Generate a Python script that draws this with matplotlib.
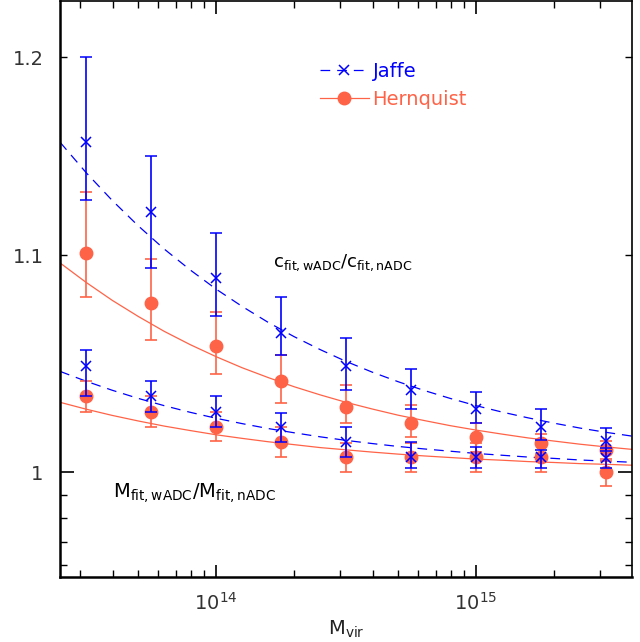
import numpy as np
import matplotlib
matplotlib.use("Agg")
import matplotlib.pyplot as plt
from matplotlib.ticker import FixedLocator, FixedFormatter, LogLocator, NullFormatter
from matplotlib.lines import Line2D

# halo mass bins, log10(M_vir)
log_m = [13.5, 13.75, 14.0, 14.25, 14.5, 14.75, 15.0, 15.25, 15.5]

# c_fit,wADC / c_fit,nADC
c_jaffe = [1.156, 1.121, 1.089, 1.063, 1.048, 1.037, 1.028, 1.020, 1.014]
c_jaffe_hi = [1.200, 1.149, 1.111, 1.080, 1.061, 1.0466, 1.0357, 1.028, 1.0195]
c_jaffe_lo = [1.127, 1.094, 1.071, 1.053, 1.037, 1.028, 1.0217, 1.0141, 1.0092]
c_hern = [1.101, 1.077, 1.057, 1.041, 1.029, 1.022, 1.0155, 1.0128, 1.0097]
c_hern_hi = [1.131, 1.098, 1.073, 1.053, 1.039, 1.030, 1.0217, 1.017, 1.014]
c_hern_lo = [1.080, 1.060, 1.044, 1.031, 1.022, 1.0155, 1.0088, 1.008, 1.005]

# M_fit,wADC / M_fit,nADC
m_jaffe = [1.048, 1.034, 1.027, 1.020, 1.0132, 1.0066, 1.0066, 1.0066, 1.0061]
m_jaffe_hi = [1.0554, 1.041, 1.034, 1.0266, 1.020, 1.0132, 1.011, 1.010, 1.0106]
m_jaffe_lo = [1.034, 1.027, 1.020, 1.0132, 1.0066, 1.002, 1.002, 1.002, 1.002]
m_hern = [1.034, 1.027, 1.020, 1.0132, 1.0066, 1.0066, 1.0066, 1.0066, 1.000]
m_hern_hi = [1.041, 1.034, 1.027, 1.020, 1.013, 1.013, 1.013, 1.013, 1.006]
m_hern_lo = [1.027, 1.0203, 1.0137, 1.0066, 1.000, 1.000, 1.000, 1.000, 0.994]

# fitted curves
log_m_fit = [13.4, 13.5, 13.6, 13.7, 13.8, 13.9, 14.0, 14.1, 14.2, 14.3, 14.4, 14.5,
             14.6, 14.7, 14.8, 14.9, 15.0, 15.1, 15.2, 15.3, 15.4, 15.5, 15.6]
c_jaffe_fit = [1.156, 1.1407, 1.1269, 1.1144, 1.1031, 1.0930, 1.0838, 1.0756, 1.0681,
               1.0614, 1.0554, 1.0499, 1.0450, 1.0406, 1.0366, 1.0330, 1.0297, 1.0268,
               1.0242, 1.0218, 1.0196, 1.0177, 1.0160]
c_hern_fit = [1.0963, 1.0870, 1.0785, 1.0709, 1.0639, 1.0577, 1.0521, 1.0470, 1.0425,
              1.0383, 1.0346, 1.0312, 1.0282, 1.0254, 1.0230, 1.0207, 1.0187, 1.0169,
              1.0152, 1.0138, 1.0124, 1.0112, 1.0101]
m_jaffe_fit = [1.0453, 1.0408, 1.0367, 1.0330, 1.0297, 1.0267, 1.0240, 1.0216, 1.0194,
               1.0175, 1.0157, 1.0141, 1.0127, 1.0114, 1.0103, 1.0093, 1.0083, 1.0075,
               1.0067, 1.0061, 1.0054, 1.0049, 1.0044]
m_hern_fit = [1.0312, 1.0281, 1.0253, 1.0228, 1.0205, 1.0185, 1.0166, 1.0150, 1.0135,
              1.0122, 1.0109, 1.0099, 1.0089, 1.0080, 1.0072, 1.0065, 1.0058, 1.0053,
              1.0047, 1.0043, 1.0038, 1.0035, 1.0031]

blue = "#0000ff"
red = "#ff6347"
plt.rcParams["lines.scale_dashes"] = False

mass = 10 ** np.array(log_m)
mass_fit = 10 ** np.array(log_m_fit)

fig = plt.figure(figsize=(6.4, 6.42), dpi=100)
ax = fig.add_axes([0.094, 0.1012, 0.8935, 0.8970])
ax.set_xscale("log")
ax.set_yscale("log")


def err(y, lo, hi):
    y = np.array(y)
    return [y - np.array(lo), np.array(hi) - y]


# fits
ax.plot(mass_fit, c_hern_fit, color=red, lw=0.9)
ax.plot(mass_fit, m_hern_fit, color=red, lw=0.9)
ax.plot(mass_fit, c_jaffe_fit, color=blue, lw=0.9, dashes=(7, 5))
ax.plot(mass_fit, m_jaffe_fit, color=blue, lw=0.9, dashes=(7, 5))

# points
for y, lo, hi in [(c_hern, c_hern_lo, c_hern_hi), (m_hern, m_hern_lo, m_hern_hi)]:
    ax.errorbar(mass, y, yerr=err(y, lo, hi), fmt="o", color=red, ms=9,
                elinewidth=1.2, capsize=4, capthick=1.2, zorder=3)
for y, lo, hi in [(c_jaffe, c_jaffe_lo, c_jaffe_hi), (m_jaffe, m_jaffe_lo, m_jaffe_hi)]:
    ax.errorbar(mass, y, yerr=err(y, lo, hi), fmt="x", color=blue, ms=7, mew=1.1,
                elinewidth=1.2, capsize=4, capthick=1.2, zorder=4)

ax.set_xlim(10 ** 13.4, 10 ** 15.6)
ax.set_ylim(0.955, 1.230)

# ticks
ax.yaxis.set_major_locator(FixedLocator([1.0]))
ax.yaxis.set_major_formatter(FixedFormatter(["1"]))
ax.yaxis.set_minor_locator(FixedLocator([0.96, 0.97, 0.98, 0.99, 1.1, 1.2]))
ax.yaxis.set_minor_formatter(FixedFormatter(["", "", "", "", "1.1", "1.2"]))
ax.xaxis.set_major_locator(LogLocator(base=10, numticks=10))
ax.xaxis.set_minor_locator(LogLocator(base=10, subs=np.arange(2, 10), numticks=20))
ax.xaxis.set_minor_formatter(NullFormatter())

ax.tick_params(which="both", direction="in", top=True, right=True, color="black")
ax.tick_params(axis="y", which="major", length=10, width=1.2, labelsize=14, pad=12, labelcolor="#333333")
ax.tick_params(axis="y", which="minor", length=5, width=1.0, labelsize=14, pad=12, labelcolor="#333333")
ax.tick_params(axis="x", which="major", length=9, width=1.2, labelsize=14, pad=11, labelcolor="#333333")
ax.tick_params(axis="x", which="minor", length=5, width=1.0)

for side in ["left", "bottom"]:
    ax.spines[side].set_linewidth(1.8)
for side in ["top", "right"]:
    ax.spines[side].set_linewidth(1.2)

ax.set_xlabel(r"$\mathregular{M_{vir}}$", fontsize=14, labelpad=3, color="#222222")

ax.text(0.372, 0.546, r"$\mathregular{c_{fit,wADC}/c_{fit,nADC}}$", transform=ax.transAxes,
        fontsize=13, va="center", ha="left")
ax.text(0.092, 0.145, r"$\mathregular{M_{fit,wADC}/M_{fit,nADC}}$", transform=ax.transAxes,
        fontsize=14, va="center", ha="left")

handles = [
    Line2D([], [], color=blue, lw=0.9, dashes=(7, 5), marker="x", ms=7, mew=1.1),
    Line2D([], [], color=red, lw=0.9, marker="o", ms=9),
]
ax.legend(handles, ["Jaffe", "Hernquist"], loc="upper left", bbox_to_anchor=(0.441, 0.908),
          frameon=False, fontsize=14, handlelength=2.5, handletextpad=0.2,
          labelcolor=[blue, red], borderaxespad=0, labelspacing=0.45)

fig.savefig("out.png", dpi=100)
